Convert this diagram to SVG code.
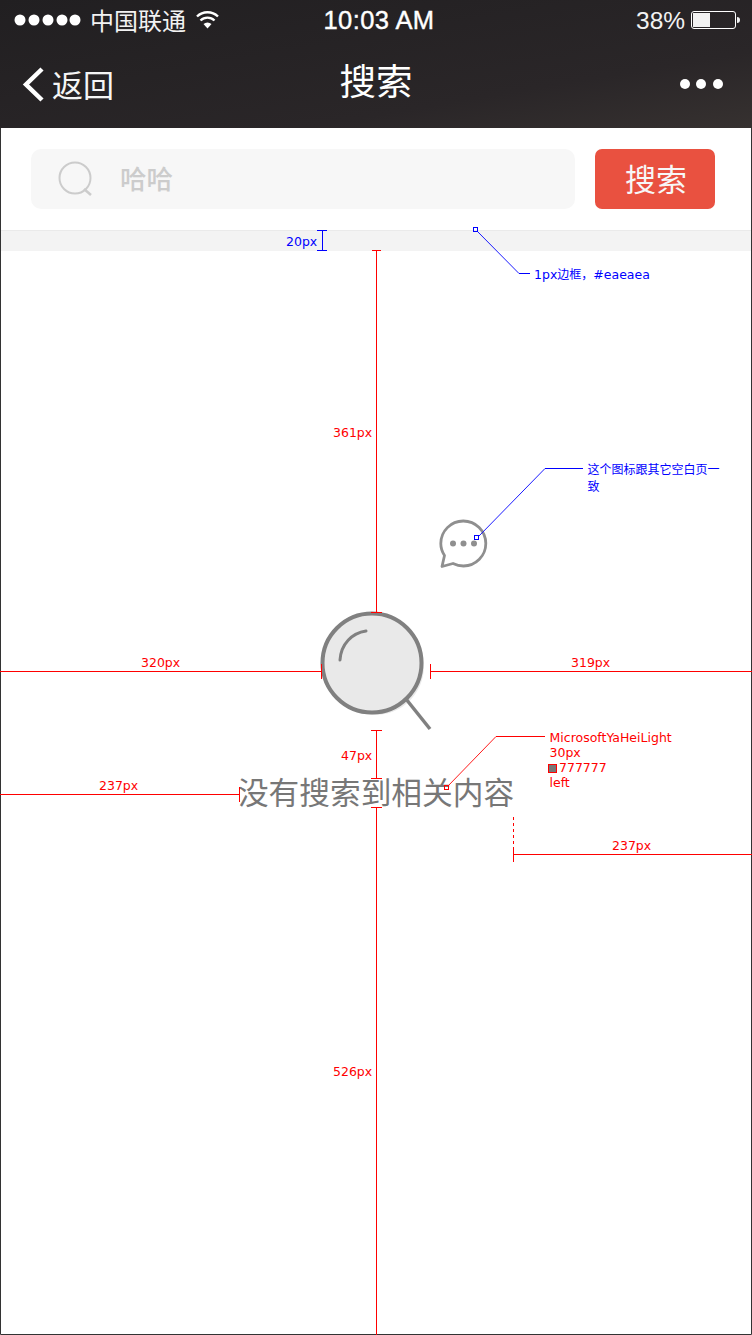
<svg xmlns="http://www.w3.org/2000/svg" width="752" height="1335" viewBox="0 0 752 1335">
<style>
text{font-family:"Noto Sans CJK SC","Liberation Sans",sans-serif}
.m{font-family:"DejaVu Sans","Noto Sans CJK SC",sans-serif;font-size:12.500px}
.c{font-family:"Noto Sans CJK SC",sans-serif;font-size:12px}
.r{fill:#f00}.b{fill:#00f}
.rl{stroke:#f00;fill:none;shape-rendering:crispEdges}
.bl{stroke:#00f;fill:none;shape-rendering:crispEdges}
.w{fill:#fff}
</style>
<defs>
<linearGradient id="nav" x1="0" y1="0" x2="1" y2="1"><stop offset="0" stop-color="#211f21"/><stop offset=".7" stop-color="#2a2628"/><stop offset="1" stop-color="#363130"/></linearGradient>
</defs>
<rect width="752" height="1335" fill="#fff"/>
<g id="header">
<rect width="752" height="128" fill="url(#nav)"/>
<g class="w"><circle cx="20" cy="20" r="5.500"/><circle cx="34" cy="20" r="5.500"/><circle cx="48" cy="20" r="5.500"/><circle cx="62" cy="20" r="5.500"/><circle cx="75" cy="20" r="5.500"/></g>
<text x="90" y="29.500" font-size="24" style="fill:#f2f2f2">中国联通</text>
<path d="M197 16.500a15 15 0 0 1 21 0M200.500 20.500a10 10 0 0 1 14 0" fill="none" stroke="#fff" stroke-width="2.400"/>
<path d="M203.500 24a6 6 0 0 1 8 0l-4 4.500z" fill="#fff"/>
<text x="379" y="29" text-anchor="middle" font-size="25.500" stroke="#fff" stroke-width=".4" style="font-family:'Liberation Sans',sans-serif;letter-spacing:.4px" class="w">10:03 AM</text>
<text x="636" y="29" font-size="24.500" style="font-family:'Liberation Sans',sans-serif;fill:#f2f2f2">38%</text>
<rect x="691.500" y="11.500" width="44" height="17" rx="2.500" fill="none" stroke="#fff"/>
<rect x="693" y="13" width="17" height="14" fill="#f2f2f2"/>
<path d="M737 17c2 0 3 1 3 3s-1 3-3 3z" fill="#f2f2f2"/>
<path d="M42 69L26 84.500L42 100" fill="none" stroke="#fff" stroke-width="4.500"/>
<text x="52" y="97" font-size="31" style="fill:#f5f5f5">返回</text>
<text x="376" y="95" text-anchor="middle" font-size="36.500" class="w">搜索</text>
<g class="w"><circle cx="685" cy="84" r="5"/><circle cx="701" cy="84" r="5"/><circle cx="718" cy="84" r="5"/></g>
</g>
<g id="search-box">
<rect x="31" y="149" width="544" height="60" rx="10" fill="#f7f7f7"/>
<circle cx="75" cy="178" r="15.500" fill="none" stroke="#ccc" stroke-width="2"/>
<path d="M84 189l7 6" stroke="#ccc" stroke-width="2.500" fill="none"/>
<text x="120" y="189" font-size="26.500" fill="#ccc" style="font-weight:500">哈哈</text>
</g>
<g id="search-button">
<rect x="595" y="149" width="120" height="60" rx="7" fill="#e95140"/>
<text x="656" y="191" text-anchor="middle" font-size="31" fill="#f7f7f7">搜索</text>
</g>
<g id="divider">
<rect x="0" y="230" width="752" height="21" fill="#f3f3f3"/>
<rect x="0" y="230" width="752" height="1" fill="#eaeaea"/>
</g>
<g id="frame"><path d="M.5 128V1334.500H751.500V128" fill="none" stroke="#333"/></g>
<g id="chat-icon">
<path d="M442 566.500L444.500 555.500C441.500 551 440.800 547 440.800 543.500A22.500 22.500 0 1 1 463.500 566C459 566 456 565 453 563.500z" fill="none" stroke="#8f8f8f" stroke-width="2.800" stroke-linejoin="round"/>
<g fill="#8f8f8f"><circle cx="453" cy="543.500" r="3"/><circle cx="463.500" cy="543.500" r="3"/><circle cx="474" cy="543.500" r="3"/></g>
</g>
<g id="magnifier">
<circle cx="375" cy="666" r="49" fill="#e9e9e9"/>
<circle cx="372" cy="663" r="49.500" fill="#e9e9e9" stroke="#808080" stroke-width="4"/>
<path d="M406 699l24 30" stroke="#808080" stroke-width="3.500" fill="none"/>
<path d="M340 660C341 644 352 633 366 631" fill="none" stroke="#808080" stroke-width="3" stroke-linecap="round"/>
</g>
<g id="empty-text"><text x="376" y="804" text-anchor="middle" font-size="30.700" fill="#777">没有搜索到相关内容</text></g>
<g id="connectors">
<g class="bl">
<path d="M322 231V251M317 230.500H327M317 250.500H327"/>
<rect x="473.500" y="227.500" width="4" height="4"/>
<rect x="474.500" y="535.500" width="4" height="4"/>
<path d="M519 273.500H530M545 468.500H583"/>
</g>
<path d="M477 231L519 273.500M479 536L545 468.500" stroke="#00f" stroke-width=".9" fill="none"/>
<g class="rl">
<path d="M376.500 250V612M372 250.500H381M371 612.500H382"/>
<path d="M0 671.500H322M321.500 664V679M430.500 664V679M431 671.500H752"/>
<path d="M376.500 731V778M371 730.500H382M371 778.500H382"/>
<path d="M376.500 807V1335M371 807.500H382"/>
<path d="M0 794.500H240M239.500 787V802"/>
<path d="M513.500 847V862M514 854.500H752"/>
<path d="M513.500 817V847" stroke-dasharray="3 3"/>
<path d="M496 736.500H545"/>
<rect x="444.500" y="785.500" width="4" height="4"/>
</g>
<path d="M448 786L496 736.500" stroke="#f00" stroke-width=".9" fill="none"/>
</g>
<g id="labels">
<text x="286" y="246" class="m b">20px</text>
<text x="534" y="279" class="m b">1px<tspan class="c">边框，</tspan>#eaeaea</text>
<text x="587.500" y="474" class="c b">这个图标跟其它空白页一</text>
<text x="587.500" y="491" class="c b">致</text>
<text x="333" y="437" class="m r">361px</text>
<text x="141" y="667" class="m r">320px</text>
<text x="571" y="667" class="m r">319px</text>
<text x="341" y="760" class="m r">47px</text>
<text x="99" y="790" class="m r">237px</text>
<text x="612" y="850" class="m r">237px</text>
<text x="333" y="1076" class="m r">526px</text>
<text x="549.500" y="742" class="m r">MicrosoftYaHeiLight</text>
<text x="549.500" y="757" class="m r">30px</text>
<rect x="548.500" y="764.500" width="8" height="8" fill="#777" stroke="#f00"/>
<text x="559" y="772" class="m r">777777</text>
<text x="549.500" y="787" class="m r">left</text>
</g>
</svg>
